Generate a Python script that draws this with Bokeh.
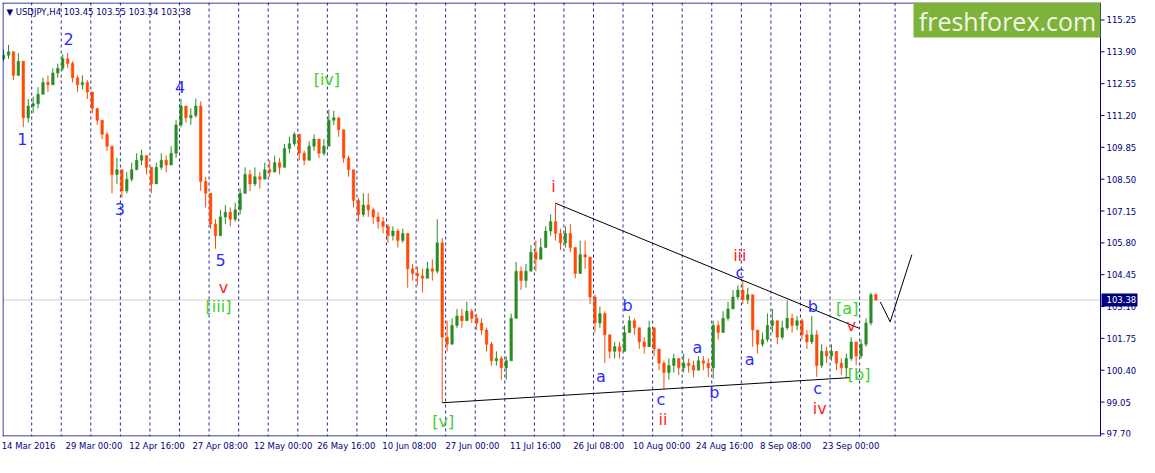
from bokeh.plotting import figure
from bokeh.models import (FixedTicker, Span, Label, BoxAnnotation, ColumnDataSource)
from bokeh.embed import file_html
from bokeh.resources import INLINE
from bokeh.core.properties import value

# ---------------- data (USDJPY, H4, each candle = 5 H4 bars) ----------------
first_open = 113.60
closes = [
    113.75, 113.90, 112.90, 113.50, 111.10, 111.60, 111.70, 112.10, 112.60, 112.50,
    113.00, 113.20, 113.60, 113.40, 112.80, 112.50, 112.60, 112.20, 111.50, 111.00,
    110.40, 109.90, 108.70, 108.90, 108.00, 108.50, 108.90, 109.30, 109.50, 109.00,
    108.30, 109.00, 109.30, 109.10, 109.60, 110.80, 111.60, 111.10, 111.20, 111.60,
    108.40, 107.90, 106.60, 106.10, 106.90, 107.10, 106.80, 107.20, 107.90, 108.70,
    108.30, 108.60, 108.50, 108.90, 108.80, 109.20, 109.00, 109.80, 110.00, 110.40,
    109.60, 109.30, 109.90, 110.20, 109.60, 109.90, 111.00, 111.10, 110.60, 109.40,
    108.90, 107.60, 107.00, 107.40, 107.20, 106.90, 106.70, 106.50, 106.10, 106.30,
    105.90, 106.20, 104.70, 104.50, 104.40, 104.30, 104.70, 104.60, 105.80, 101.80,
    101.50, 102.30, 102.70, 102.50, 102.90, 102.60, 102.40, 102.10, 101.50, 100.80,
    100.90, 100.50, 100.80, 102.60, 104.60, 104.20, 104.60, 105.40, 105.10, 105.60,
    106.30, 106.70, 106.20, 105.80, 106.20, 105.60, 104.50, 105.30, 105.20, 103.50,
    102.40, 102.80, 101.90, 101.20, 101.40, 101.20, 102.00, 102.50, 102.20, 101.60,
    101.40, 102.20, 101.30, 100.70, 100.30, 100.60, 100.90, 100.50, 100.70, 100.60,
    100.40, 100.80, 100.70, 100.50, 102.30, 102.00, 102.60, 103.00, 103.50, 103.80,
    103.40, 103.60, 102.10, 101.50, 101.70, 102.30, 102.50, 101.80, 102.20, 102.60,
    102.30, 102.50, 101.90, 101.60, 101.90, 100.60, 101.20, 101.00, 101.20, 100.70,
    100.50, 100.90, 101.60, 101.00, 101.50, 102.40, 103.60, 103.38,
]
highs = [
    114.00, 114.19, 113.70, 113.85, 113.40, 111.90, 112.00, 112.40, 112.80, 112.90,
    113.20, 113.40, 113.80, 113.85, 113.50, 112.90, 112.90, 112.70, 112.00, 111.50,
    111.00, 110.50, 109.80, 109.40, 108.90, 108.80, 109.20, 109.60, 109.75, 109.50,
    108.90, 109.20, 109.60, 109.50, 109.90, 111.00, 111.90, 111.60, 111.50, 111.92,
    111.80, 108.60, 107.60, 106.80, 107.20, 107.40, 107.30, 107.50, 108.10, 109.00,
    108.90, 109.00, 108.80, 109.20, 109.30, 109.50, 109.40, 110.00, 110.30, 110.50,
    110.20, 109.70, 110.10, 110.40, 110.00, 110.20, 111.45, 111.40, 111.10, 110.60,
    109.50, 108.90, 107.70, 107.90, 107.90, 107.30, 107.10, 106.90, 106.60, 106.50,
    106.40, 106.40, 106.10, 104.90, 104.80, 104.70, 105.00, 105.10, 106.80, 106.00,
    102.50, 102.60, 103.00, 103.00, 103.30, 103.00, 102.80, 102.60, 102.20, 101.60,
    101.20, 101.00, 101.00, 102.80, 105.00, 104.80, 104.90, 105.70, 105.90, 106.00,
    106.50, 107.00, 107.48, 106.40, 106.50, 106.60, 105.40, 105.90, 105.90, 105.20,
    103.60, 103.10, 102.90, 101.90, 101.60, 101.60, 102.30, 102.70, 102.60, 102.20,
    101.80, 102.50, 102.20, 101.30, 100.80, 100.90, 101.10, 100.90, 101.10, 100.90,
    100.80, 101.00, 101.00, 100.90, 102.50, 102.50, 102.90, 103.30, 103.80, 104.00,
    104.21, 103.90, 103.60, 102.00, 102.00, 102.80, 103.00, 102.50, 102.50, 103.35,
    102.80, 102.70, 102.60, 102.10, 102.70, 102.10, 101.50, 101.40, 101.50, 101.20,
    100.90, 101.10, 101.80, 101.50, 101.70, 102.60, 103.68, 103.65,
]
lows = [
    113.50, 113.60, 112.70, 112.90, 110.70, 110.90, 111.30, 111.50, 112.10, 112.20,
    112.60, 112.80, 113.10, 113.20, 112.60, 112.20, 112.30, 111.90, 111.30, 110.80,
    110.20, 109.70, 107.90, 108.30, 107.70, 107.90, 108.40, 108.90, 109.10, 108.70,
    107.90, 108.30, 108.90, 108.80, 109.20, 109.40, 110.70, 110.90, 110.80, 111.10,
    108.00, 107.30, 106.40, 105.55, 106.10, 106.60, 106.50, 106.70, 107.00, 108.30,
    108.00, 108.20, 108.10, 108.50, 108.60, 108.80, 108.70, 109.00, 109.60, 109.90,
    109.30, 109.10, 109.30, 109.70, 109.40, 109.50, 109.90, 110.80, 110.30, 109.20,
    108.60, 107.30, 106.70, 106.90, 106.90, 106.60, 106.40, 106.20, 105.80, 105.90,
    105.60, 105.80, 103.90, 104.20, 104.00, 103.70, 104.30, 104.20, 104.50, 99.02,
    101.20, 101.60, 102.20, 102.20, 102.50, 102.40, 102.10, 101.90, 101.20, 100.60,
    100.60, 100.00, 100.00, 100.80, 103.60, 103.80, 103.90, 104.90, 104.60, 105.20,
    105.70, 106.10, 105.90, 105.50, 105.60, 105.40, 104.30, 104.90, 104.70, 103.20,
    102.00, 102.20, 100.70, 100.90, 100.90, 100.90, 101.20, 102.00, 101.90, 101.30,
    101.10, 101.40, 101.00, 100.40, 99.60, 100.00, 100.30, 100.20, 100.30, 100.30,
    100.10, 100.40, 100.40, 100.10, 100.05, 101.70, 102.10, 102.50, 103.10, 103.40,
    103.20, 103.20, 101.40, 101.10, 101.40, 101.60, 102.00, 101.50, 101.70, 102.10,
    102.00, 102.10, 101.70, 101.30, 101.50, 100.12, 100.50, 100.70, 100.80, 100.40,
    100.20, 100.10, 100.80, 100.60, 100.90, 101.40, 102.30, 103.34,
]
# forecast path drawn after the last candle (bar number, price)
forecast_bars = [890, 900, 922]
forecast_prices = [103.30, 102.45, 105.30]

date_labels = ["14 Mar 2016", "29 Mar 00:00", "12 Apr 16:00", "27 Apr 08:00",
               "12 May 00:00", "26 May 16:00", "10 Jun 08:00", "27 Jun 00:00",
               "11 Jul 16:00", "26 Jul 08:00", "10 Aug 00:00", "24 Aug 16:00",
               "8 Sep 08:00", "23 Sep 00:00"]
date_bars = [64 * k for k in range(len(date_labels))]
week_separators = [29 + 30 * k for k in range(29)] + [905]
price_ticks = [97.70, 99.05, 100.40, 101.75, 103.10, 104.45, 105.80, 107.15,
               108.50, 109.85, 111.20, 112.55, 113.90, 115.25]
last_price = 103.38

BLUE, RED, GREEN = "#2b2bff", "#ff1f1f", "#3ccf2e"
# wave labels: text, candle index, anchor ("h"=high, "l"=low), dx px, dy px, colour
wave_labels = [
    ("1", 4, "l", -1, 12, BLUE), ("2", 13, "h", 1, -14, BLUE),
    ("3", 24, "l", -2, 11, BLUE), ("4", 36, "h", -1, -12, BLUE),
    ("5", 43, "l", 5, 11, BLUE), ("v", 43, "l", 8, 39, RED),
    ("[iii]", 43, "l", 3, 58, GREEN), ("[iv]", 66, "h", -2, -30, GREEN),
    ("[v]", 89, "l", 1, 19, GREEN), ("i", 112, "h", -2, -17, RED),
    ("a", 122, "l", -4, 13, BLUE), ("b", 127, "h", -2, -10, BLUE),
    ("c", 134, "l", -3, 10, BLUE), ("ii", 134, "l", -1, 30, RED),
    ("a", 141, "h", -1, -9, BLUE), ("b", 144, "l", 1, 14, BLUE),
    ("c", 150, "h", -3, -8, BLUE), ("iii", 150, "h", -3, -25, RED),
    ("a", 152, "l", -3, 13, BLUE), ("b", 164, "h", 1, -9, BLUE),
    ("c", 165, "l", 1, 12, BLUE), ("iv", 165, "l", 3, 32, RED),
    ("[a]", 172, "h", -4, -29, GREEN), ("v", 172, "h", 0, -12, RED),
    ("[b]", 173, "l", 3, 9, GREEN),
]

# ---------------- derived candle table ----------------
n = len(closes)
opens = [first_open] + closes[:-1]
xs = [5 * i + 0.5 for i in range(n)]
hi = [max(h, o, c) for h, o, c in zip(highs, opens, closes)]
lo = [min(l, o, c) for l, o, c in zip(lows, opens, closes)]
BULL, BEAR = "#2a8c24", "#ff4a05"
cols = [BULL if c >= o else BEAR for o, c in zip(opens, closes)]
src = ColumnDataSource(dict(x=xs, o=opens, c=closes, h=hi, l=lo, col=cols,
                            top=[max(o, c) for o, c in zip(opens, closes)],
                            bot=[min(o, c) for o, c in zip(opens, closes)]))

# ---------------- geometry ----------------
NAVY = "#000080"
AX_FONT = "DejaVu Sans"
CHART_W, SCALE_W, FH = 1098, 39, 434
X0, X1 = -0.6, 1113.4            # chart area (bar numbers)
Y0, Y1 = 97.59, 115.99           # price range
u = (X1 - X0) / CHART_W          # bars per pixel
v = (Y1 - Y0) / FH               # price per pixel
XE = X1 + SCALE_W * u            # frame also holds the price scale

p = figure(frame_width=CHART_W + SCALE_W, frame_height=FH, x_range=(X0, XE),
           y_range=(Y0, Y1), y_axis_location=None,
           output_backend="svg", toolbar_location=None,
           min_border_left=2, min_border_top=2, min_border_right=0,
           min_border_bottom=21)
p.background_fill_color = "white"
p.border_fill_color = "white"
p.outline_line_color = None
p.xgrid.visible = False
p.ygrid.visible = False

# week separators & current price line
for b in week_separators:
    p.add_layout(Span(location=b, dimension="height", line_color=NAVY, line_width=1,
                      line_alpha=0.85, line_dash="3 3", level="underlay"))
p.segment(x0=[X0], x1=[X1], y0=[last_price], y1=[last_price],
          line_color="#cfcfcf", line_width=1, level="underlay")

# candles
p.segment(x0="x", x1="x", y0="l", y1="h", line_color="col", line_width=1, source=src)
p.vbar(x="x", width=2.6, top="top", bottom="bot", fill_color="col",
       line_color="col", line_width=0.5, source=src)

# trend lines (through wave points, extended)
def line_through(i1, y1, i2, y2, x_end):
    x1, x2 = xs[i1], xs[i2]
    k = (y2 - y1) / (x2 - x1)
    return [x1, x_end], [y1, y1 + k * (x_end - x1)]

ux, uy = line_through(112, hi[112], 150, hi[150], 868.4)
lx, ly = line_through(89, lo[89], 134, lo[134], 859.4)
p.line(ux, uy, line_color="black", line_width=1)
p.line(lx, ly, line_color="black", line_width=1)
p.line(forecast_bars, forecast_prices, line_color="black", line_width=1)

# wave labels
lab = dict(x=[], y=[], t=[], dx=[], dy=[], col=[])
for t, idx, side, dx, dy, col in wave_labels:
    lab["x"].append(xs[idx])
    lab["y"].append(hi[idx] if side == "h" else lo[idx])
    lab["t"].append(t)
    lab["dx"].append(dx)
    lab["dy"].append(dy)
    lab["col"].append(col)
p.text(x="x", y="y", text="t", x_offset="dx", y_offset="dy", text_color="col",
       source=ColumnDataSource(lab), text_font=value("DejaVu Sans"),
       text_font_size="16px", text_align="center", text_baseline="middle")

# chart border (left, top, bottom) and price-scale line
p.segment(x0=[X0 + 0.5 * u, X0, X0, X1], x1=[X0 + 0.5 * u, X1, X1, X1],
          y0=[Y0, Y1 - 0.5 * v, Y0 + 0.5 * v, Y0], y1=[Y1, Y1 - 0.5 * v, Y0 + 0.5 * v, Y1],
          line_color=NAVY, line_width=1)

# price scale: ticks, labels, current price box
p.ray(x=[X1] * len(price_ticks), y=price_ticks, length=4, length_units="screen",
      angle=0, line_color=NAVY, line_width=1)
p.text(x=[X1] * len(price_ticks), y=price_ticks,
       text=["%.2f" % t for t in price_ticks], x_offset=6,
       text_color=NAVY, text_font=value(AX_FONT), text_font_size="8.5px",
       text_align="left", text_baseline="middle")
p.quad(left=[X1 + 1 * u], right=[X1 + 37 * u], bottom=[last_price - 6.5 * v],
       top=[last_price + 6.5 * v], fill_color=NAVY, line_color=None)
p.text(x=[X1], y=[last_price], text=["%.2f" % last_price], x_offset=6,
       text_color="white", text_font=value(AX_FONT), text_font_size="8.5px",
       text_align="left", text_baseline="middle")

# time axis
xa = p.xaxis[0]
centers = [b + 2.35 * len(t) for b, t in zip(date_bars, date_labels)]
xa.ticker = FixedTicker(ticks=centers)
xa.major_label_overrides = {c: t for c, t in zip(centers, date_labels)}
xa.axis_line_color = None
xa.major_tick_line_color = None
xa.major_tick_out = 0
xa.major_tick_in = 0
xa.minor_tick_line_color = None
xa.minor_tick_out = 0
xa.minor_tick_in = 0
xa.major_label_standoff = 4
xa.major_label_text_color = NAVY
xa.major_label_text_font = AX_FONT
xa.major_label_text_font_size = "8.5px"

# title
p.add_layout(Label(x=4, y=FH - 9, x_units="screen", y_units="screen",
                   text="\u25bc  USDJPY,H4  103.45 103.55 103.34 103.38",
                   text_color=NAVY, text_font=AX_FONT,
                   text_font_size="8.5px", text_baseline="middle"))

# logo
p.add_layout(BoxAnnotation(left=CHART_W - 187, right=CHART_W, bottom=FH - 35, top=FH,
                           left_units="screen", right_units="screen",
                           bottom_units="screen", top_units="screen",
                           fill_color="#7db338", fill_alpha=1.0, line_color=None))
p.add_layout(Label(x=CHART_W - 93, y=FH - 18, x_units="screen", y_units="screen",
                   text="freshforex.com", text_color="#f4f6ee",
                   text_font="Open Sans", text_font_size="25px",
                   text_align="center", text_baseline="middle"))

open("out.html", "w").write(file_html(p, INLINE))
